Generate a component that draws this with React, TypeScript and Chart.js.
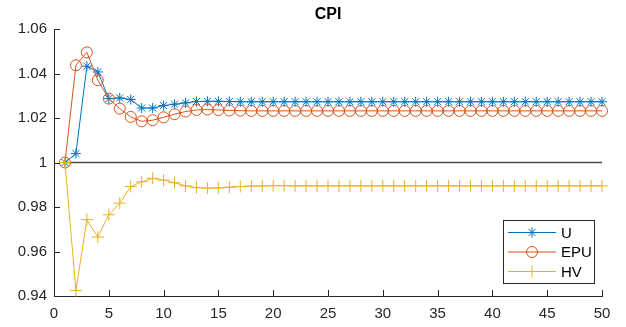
import React, { useEffect, useRef } from "react";
import { Chart, registerables } from "chart.js";

Chart.register(...registerables);

const TITLE = "CPI";
const PERIODS = [1,2,3,4,5,6,7,8,9,10,11,12,13,14,15,16,17,18,19,20,21,22,23,24,25,26,27,28,29,30,31,32,33,34,35,36,37,38,39,40,41,42,43,44,45,46,47,48,49,50];
const U_VALUES = [1.000,1.004,1.0433,1.0407,1.0287,1.0290,1.0283,1.0245,1.0245,1.0256,1.0262,1.0268,1.0274,1.0275,1.0275,1.0274,1.0273,1.0273,1.0273,1.0273,1.0273,1.0273,1.0273,1.0273,1.0273,1.0273,1.0273,1.0273,1.0273,1.0273,1.0273,1.0273,1.0273,1.0273,1.0273,1.0273,1.0273,1.0273,1.0273,1.0273,1.0273,1.0273,1.0273,1.0273,1.0273,1.0273,1.0273,1.0273,1.0273,1.0273];
const EPU_VALUES = [1.000,1.0437,1.0495,1.0370,1.0287,1.0242,1.0205,1.0185,1.0190,1.0203,1.0217,1.0229,1.0236,1.0238,1.0236,1.0234,1.0233,1.0232,1.0232,1.0232,1.0232,1.0232,1.0232,1.0232,1.0232,1.0232,1.0232,1.0232,1.0232,1.0232,1.0232,1.0232,1.0232,1.0232,1.0232,1.0232,1.0232,1.0232,1.0232,1.0232,1.0232,1.0232,1.0232,1.0232,1.0232,1.0232,1.0232,1.0232,1.0232,1.0232];
const HV_VALUES = [1.000,0.9425,0.9743,0.9665,0.9765,0.9817,0.9892,0.9913,0.9929,0.9921,0.9909,0.9895,0.9887,0.9885,0.9886,0.9889,0.9892,0.9894,0.9895,0.9896,0.9896,0.9895,0.9895,0.9895,0.9895,0.9895,0.9895,0.9895,0.9895,0.9895,0.9895,0.9895,0.9895,0.9895,0.9895,0.9895,0.9895,0.9895,0.9895,0.9895,0.9895,0.9895,0.9895,0.9895,0.9895,0.9895,0.9895,0.9895,0.9895,0.9895];
const BASELINE_X = [1, 50];
const BASELINE_Y = [1, 1];
const SERIES_NAMES = ["U", "EPU", "HV"];
const X_MIN = 0, X_MAX = 50, X_STEP = 5;
const Y_MIN = 0.94, Y_MAX = 1.06, Y_STEP = 0.02;

const COLORS = ["#0072BD", "#D95319", "#EDB120"];
const MARKERS = ["star", "circle", "cross"];
const FONT = '"Liberation Sans", Arial, Helvetica, sans-serif';
const AXIS_COLOR = "#262626";

function drawMarker(ctx: CanvasRenderingContext2D, style: string, x: number, y: number, r: number) {
  ctx.beginPath();
  if (style === "circle") {
    ctx.arc(x, y, r, 0, Math.PI * 2);
  } else if (style === "cross") {
    ctx.moveTo(x - r, y); ctx.lineTo(x + r, y);
    ctx.moveTo(x, y - r); ctx.lineTo(x, y + r);
  } else {
    ctx.moveTo(x - r, y); ctx.lineTo(x + r, y);
    ctx.moveTo(x, y - r); ctx.lineTo(x, y + r);
    const d = r * Math.SQRT1_2;
    ctx.moveTo(x - d, y - d); ctx.lineTo(x + d, y + d);
    ctx.moveTo(x - d, y + d); ctx.lineTo(x + d, y - d);
  }
  ctx.stroke();
}

const decorPlugin = {
  id: "decor",
  afterDraw(chart: any) {
    const { ctx, chartArea } = chart;
    const xs = chart.scales.x, ys = chart.scales.y;
    ctx.save();
    // inward ticks
    ctx.strokeStyle = AXIS_COLOR;
    ctx.lineWidth = 1;
    ctx.beginPath();
    xs.ticks.forEach((t: any) => {
      const px = Math.round(xs.getPixelForValue(t.value)) + 0.5;
      ctx.moveTo(px, chartArea.bottom);
      ctx.lineTo(px, chartArea.bottom - 6);
    });
    ys.ticks.forEach((t: any) => {
      const py = Math.round(ys.getPixelForValue(t.value)) + 0.5;
      ctx.moveTo(chartArea.left, py);
      ctx.lineTo(chartArea.left + 6, py);
    });
    ctx.stroke();
    // title
    ctx.fillStyle = "#000";
    ctx.font = "bold 16px " + FONT;
    ctx.textAlign = "center";
    ctx.textBaseline = "middle";
    ctx.fillText(TITLE, (chartArea.left + chartArea.right) / 2, 14.5);
    // legend
    const bw = 91, bh = 63;
    const bx = chartArea.right - 8 - bw;
    const by = chartArea.bottom - 13 - bh;
    ctx.fillStyle = "#fff";
    ctx.fillRect(bx, by, bw, bh);
    ctx.strokeStyle = "#262626";
    ctx.lineWidth = 1;
    ctx.strokeRect(Math.round(bx) + 0.5, Math.round(by) + 0.5, bw, bh);
    ctx.font = "15px " + FONT;
    ctx.textAlign = "left";
    SERIES_NAMES.forEach((name, i) => {
      const ly = by + 12.5 + i * 19.5;
      ctx.strokeStyle = COLORS[i];
      ctx.lineWidth = 1;
      ctx.beginPath();
      ctx.moveTo(bx + 5, ly); ctx.lineTo(bx + 53, ly);
      ctx.stroke();
      drawMarker(ctx, MARKERS[i], bx + 29, ly, i === 1 ? 5.5 : i === 2 ? 6 : 5);
      ctx.fillStyle = "#000";
      ctx.fillText(name, bx + 58, ly + 1);
    });
    ctx.restore();
  },
};

export default function App() {
  const ref = useRef<HTMLCanvasElement>(null);
  useEffect(() => {
    if (!ref.current) return;
    const mk = (vals: number[]) => vals.map((v, i) => ({ x: PERIODS[i], y: v }));
    const seriesList = [U_VALUES, EPU_VALUES, HV_VALUES];
    const datasets: any[] = seriesList.map((vals, i) => ({
      label: SERIES_NAMES[i],
      data: mk(vals),
      borderColor: COLORS[i],
      borderWidth: 1,
      pointStyle: MARKERS[i],
      pointRadius: i === 1 ? 5.5 : i === 2 ? 6 : 5,
      pointBorderColor: COLORS[i],
      pointBackgroundColor: "rgba(0,0,0,0)",
      pointBorderWidth: 1,
      tension: 0,
      clip: false,
      order: 3 - i,
    }));
    datasets.push({
      label: "baseline",
      data: BASELINE_X.map((x, i) => ({ x, y: BASELINE_Y[i] })),
      borderColor: "#4a4a4a",
      borderWidth: 1.5,
      pointRadius: 0,
      clip: false,
      order: 10,
    });
    const chart = new Chart(ref.current, {
      type: "line",
      data: { datasets },
      options: {
        animation: false,
        responsive: false,
        layout: { padding: { top: 29, right: 24, left: 0, bottom: 0 } },
        plugins: { legend: { display: false }, title: { display: false }, tooltip: { enabled: false } },
        scales: {
          x: {
            type: "linear",
            min: X_MIN, max: X_MAX,
            grid: { display: false, drawTicks: false },
            border: { display: true, color: AXIS_COLOR, width: 1 },
            ticks: { stepSize: X_STEP, color: AXIS_COLOR, font: { family: FONT, size: 15 }, padding: 9, maxRotation: 0, autoSkip: false },
            afterFit: (s: any) => { s.height = 31; },
          },
          y: {
            min: Y_MIN, max: Y_MAX,
            grid: { display: false, drawTicks: false },
            border: { display: true, color: AXIS_COLOR, width: 1 },
            ticks: {
              stepSize: Y_STEP, color: AXIS_COLOR, font: { family: FONT, size: 15 }, padding: 7, autoSkip: false,
              callback: (v: any) => String(Number(Number(v).toFixed(2))),
            },
            afterFit: (s: any) => { s.width = 54; },
          },
        },
      } as any,
      plugins: [decorPlugin],
    });
    return () => chart.destroy();
  }, []);
  return (
    <div style={{ position: "absolute", left: 0, top: 0, width: 626, height: 327, background: "#fff" }}>
      <canvas ref={ref} width={626} height={327} />
    </div>
  );
}
